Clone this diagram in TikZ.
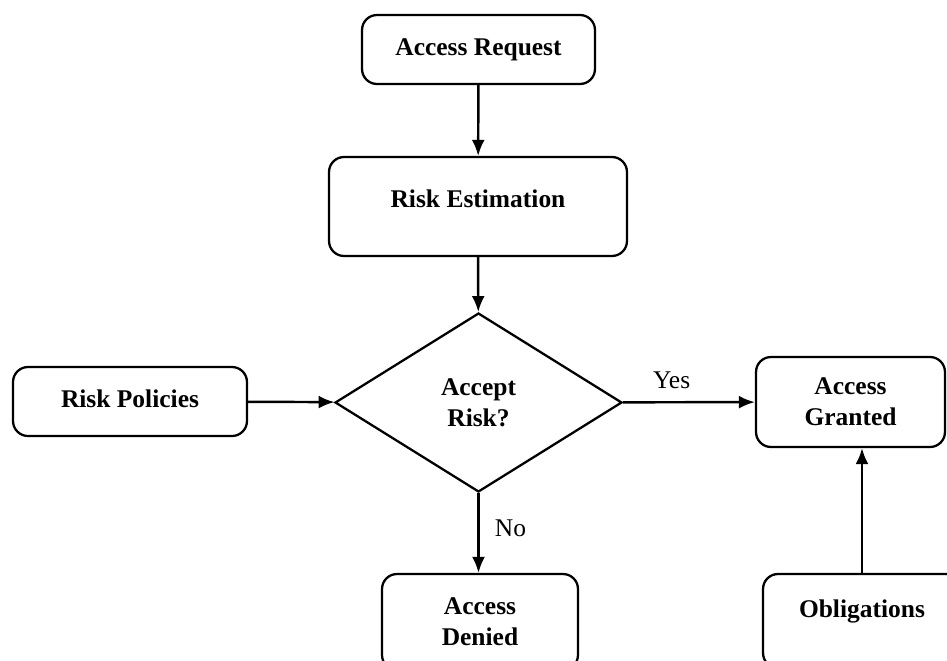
\documentclass[tikz,border=0pt]{standalone}
\usepackage{fontspec}
\setmainfont{Liberation Serif}
\usetikzlibrary{shapes.geometric,arrows.meta}

\begin{document}
\begin{tikzpicture}[x=0.02cm,y=-0.02cm,
  box/.style={draw,line width=1.3pt,rounded corners=0.3cm,align=center,inner sep=0pt,
    font=\fontsize{14.5}{17.6}\selectfont\bfseries},
  decision/.style={draw,diamond,line width=1.3pt,align=center,inner sep=0pt,
    font=\fontsize{14.5}{17.6}\selectfont\bfseries},
  flow/.style={line width=1.4pt,-{Latex[length=0.32cm,width=0.26cm]}},
  lbl/.style={font=\fontsize{14.5}{17}\selectfont}]
\clip (0,0) rectangle (947,660);
\node[box,minimum width=4.66cm,minimum height=1.38cm] (req) at (478.5,49.5) {Access Request};
\node[box,minimum width=5.96cm,minimum height=1.98cm] (est) at (478,206.5)
  {\raisebox{0.16cm}[\height][\depth]{Risk Estimation}};
\node[decision,minimum width=5.74cm,minimum height=3.58cm] (dec) at (478.5,402.5) {Accept\\Risk?};
\node[box,minimum width=4.68cm,minimum height=1.38cm] (pol) at (130,401.5)
  {\raisebox{0.06cm}[\height][\depth]{Risk Policies}};
\node[box,minimum width=3.78cm,minimum height=1.8cm] (gra) at (850.5,402) {Access\\Granted};
\node[box,minimum width=3.92cm,minimum height=1.92cm] (den) at (480,622) {Access\\Denied};
\node[box,minimum width=3.96cm,minimum height=1.88cm] (obl) at (862,621)
  {\raisebox{0.2cm}[\height][\depth]{Obligations}};
% connectors
\draw[flow] (req) -- (est);
\draw[flow] (est) -- (dec);
\draw[flow] (pol) -- (dec);
\draw[flow] (dec) -- node[lbl,pos=0.37,yshift=0.44cm] {Yes} (gra);
\draw[flow] (dec.south) -- node[lbl,pos=0.44,xshift=0.64cm] {No} (dec.south |- den.north);
\draw[flow] (obl) -- (obl |- gra.south);
\end{tikzpicture}
\end{document}
